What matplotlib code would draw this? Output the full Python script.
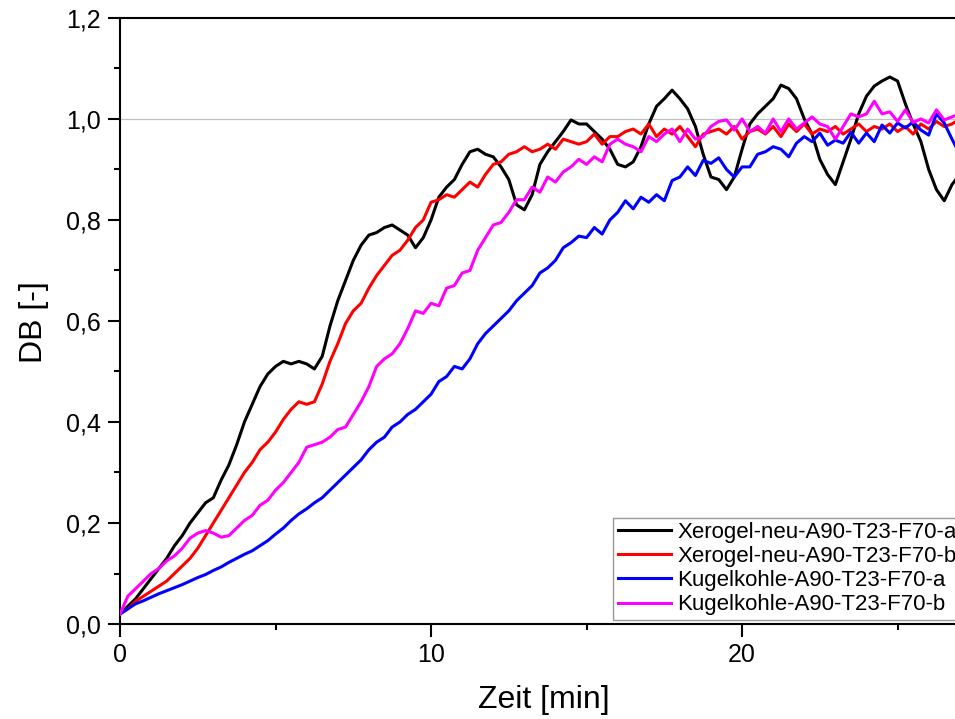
import matplotlib
matplotlib.use("Agg")
import matplotlib.pyplot as plt
from matplotlib.ticker import FuncFormatter, FixedLocator, MultipleLocator
import numpy as np

plt.rcParams['font.family'] = ['Liberation Sans', 'DejaVu Sans']

# Zeit in min, Schritt 0.25
zeit = np.arange(0, 27.01, 0.25)

xerogel_a = [
    0.02, 0.035, 0.05, 0.07, 0.09, 0.11, 0.13, 0.155, 0.175, 0.20, 0.22, 0.24,
    0.25, 0.285, 0.315, 0.355, 0.40, 0.435, 0.47, 0.495, 0.51, 0.52, 0.515, 0.52,
    0.515, 0.505, 0.53, 0.59, 0.64, 0.68, 0.72, 0.75, 0.77, 0.775, 0.785, 0.79,
    0.78, 0.77, 0.745, 0.765, 0.80, 0.845, 0.865, 0.88, 0.91, 0.935, 0.94, 0.93,
    0.925, 0.905, 0.88, 0.83, 0.82, 0.85, 0.91, 0.935, 0.955, 0.975, 0.998, 0.99,
    0.99, 0.975, 0.96, 0.94, 0.91, 0.905, 0.915, 0.945, 0.99, 1.025, 1.04, 1.057,
    1.04, 1.02, 0.985, 0.93, 0.885, 0.88, 0.86, 0.885, 0.94, 0.99, 1.01, 1.025,
    1.04, 1.067, 1.06, 1.04, 1.0, 0.97, 0.92, 0.89, 0.87, 0.915, 0.96, 1.01,
    1.045, 1.065, 1.075, 1.083, 1.075, 1.03, 0.99, 0.955, 0.9, 0.86, 0.838, 0.87,
    0.89]

xerogel_b = [
    0.02, 0.03, 0.045, 0.055, 0.065, 0.075, 0.085, 0.10, 0.115, 0.13, 0.15, 0.175,
    0.20, 0.225, 0.25, 0.275, 0.30, 0.32, 0.345, 0.36, 0.38, 0.405, 0.425, 0.44,
    0.435, 0.44, 0.475, 0.52, 0.555, 0.595, 0.62, 0.635, 0.665, 0.69, 0.71, 0.73,
    0.74, 0.76, 0.785, 0.80, 0.835, 0.84, 0.85, 0.845, 0.86, 0.875, 0.865, 0.89,
    0.91, 0.915, 0.93, 0.935, 0.945, 0.935, 0.94, 0.95, 0.94, 0.96, 0.955, 0.95,
    0.955, 0.97, 0.95, 0.965, 0.965, 0.975, 0.98, 0.97, 0.99, 0.965, 0.98, 0.97,
    0.985, 0.965, 0.945, 0.97, 0.975, 0.98, 0.97, 0.985, 0.96, 0.975, 0.98, 0.97,
    0.985, 0.965, 0.99, 0.975, 0.99, 0.97, 0.98, 0.975, 0.985, 0.97, 0.98, 0.99,
    0.975, 0.985, 0.98, 0.99, 0.975, 0.985, 0.97, 0.99, 0.98, 0.995, 0.985, 0.99,
    1.0]

kugel_a = [
    0.02, 0.03, 0.04, 0.046, 0.053, 0.06, 0.066, 0.072, 0.078, 0.085, 0.092, 0.098,
    0.106, 0.113, 0.122, 0.13, 0.138, 0.145, 0.155, 0.165, 0.178, 0.19, 0.205, 0.218,
    0.228, 0.24, 0.25, 0.265, 0.28, 0.295, 0.31, 0.325, 0.345, 0.36, 0.37, 0.39,
    0.40, 0.415, 0.425, 0.44, 0.455, 0.48, 0.49, 0.51, 0.505, 0.525, 0.555, 0.575,
    0.59, 0.605, 0.62, 0.64, 0.655, 0.67, 0.695, 0.705, 0.72, 0.745, 0.755, 0.768,
    0.765, 0.785, 0.772, 0.80, 0.815, 0.838, 0.822, 0.845, 0.835, 0.85, 0.838, 0.878,
    0.885, 0.905, 0.888, 0.918, 0.912, 0.923, 0.90, 0.885, 0.905, 0.905, 0.93, 0.935,
    0.945, 0.94, 0.925, 0.952, 0.965, 0.955, 0.972, 0.948, 0.958, 0.952, 0.974, 0.952,
    0.972, 0.955, 0.988, 0.972, 0.992, 0.982, 0.994, 0.978, 0.968, 1.01, 0.992, 0.96,
    0.93]

kugel_b = [
    0.02, 0.055, 0.07, 0.085, 0.10, 0.11, 0.125, 0.135, 0.15, 0.17, 0.18, 0.185,
    0.18, 0.172, 0.175, 0.19, 0.205, 0.215, 0.235, 0.245, 0.265, 0.28, 0.30, 0.32,
    0.35, 0.355, 0.36, 0.37, 0.385, 0.39, 0.415, 0.44, 0.47, 0.51, 0.525, 0.535,
    0.555, 0.585, 0.62, 0.615, 0.635, 0.63, 0.665, 0.67, 0.695, 0.70, 0.74, 0.765,
    0.79, 0.795, 0.815, 0.84, 0.84, 0.865, 0.855, 0.885, 0.875, 0.895, 0.905, 0.92,
    0.91, 0.925, 0.915, 0.95, 0.96, 0.95, 0.945, 0.935, 0.965, 0.955, 0.97, 0.98,
    0.955, 0.98, 0.96, 0.965, 0.985, 0.995, 0.998, 0.978, 1.0, 0.975, 0.985, 0.972,
    1.0, 0.975, 1.0, 0.98, 0.992, 1.004, 0.99, 0.985, 0.96, 0.985, 1.01, 1.004,
    1.01, 1.035, 1.01, 1.014, 0.995, 1.018, 0.993, 1.0, 0.992, 1.018, 0.998, 1.004,
    1.01]

namen = ["Xerogel-neu-A90-T23-F70-a", "Xerogel-neu-A90-T23-F70-b",
         "Kugelkohle-A90-T23-F70-a", "Kugelkohle-A90-T23-F70-b"]
farben = ["black", "#ff0000", "#0000ff", "#ff00ff"]

fig = plt.figure(figsize=(9.55, 7.19), dpi=100)
# Achse geht rechts ueber das Bild hinaus (Original ist abgeschnitten)
ax = fig.add_axes([0.1257, 0.1321, 0.977, 0.843])

ax.axhline(1.0, color="#c0c0c0", lw=0.9, zorder=1)
for serie, name, farbe in zip([xerogel_a, xerogel_b, kugel_a, kugel_b], namen, farben):
    ax.plot(zeit, serie, color=farbe, lw=2.2, label=name, zorder=3)

ax.set_xlim(0, 30)
ax.set_ylim(0, 1.2)
ax.xaxis.set_major_locator(FixedLocator([0, 10, 20]))
ax.xaxis.set_minor_locator(FixedLocator([5, 15, 25]))
ax.yaxis.set_major_locator(MultipleLocator(0.2))
ax.yaxis.set_minor_locator(MultipleLocator(0.1))
ax.yaxis.set_major_formatter(FuncFormatter(lambda v, p: f"{v:.1f}".replace(".", ",")))

ax.tick_params(which="major", direction="out", length=9, width=1.5, labelsize=18, pad=5)
ax.tick_params(which="minor", direction="out", length=4.5, width=1.5)
for s in ax.spines.values():
    s.set_linewidth(1.5)

ax.set_xlabel("Zeit [min]", fontsize=23)
ax.set_ylabel("DB [-]", fontsize=23)
ax.xaxis.set_label_coords(0.4545, -0.1)
ax.yaxis.set_label_coords(-0.076, 0.498)

leg = ax.legend(loc="lower left", bbox_to_anchor=(0.642, 0.138),
                bbox_transform=fig.transFigure, fontsize=16, frameon=True,
                fancybox=False, edgecolor="#808080", borderaxespad=0,
                borderpad=0.2, labelspacing=0.14, handlelength=2.4,
                handletextpad=0.3)
leg.get_frame().set_linewidth(1.0)

fig.savefig("out.png", dpi=100)
